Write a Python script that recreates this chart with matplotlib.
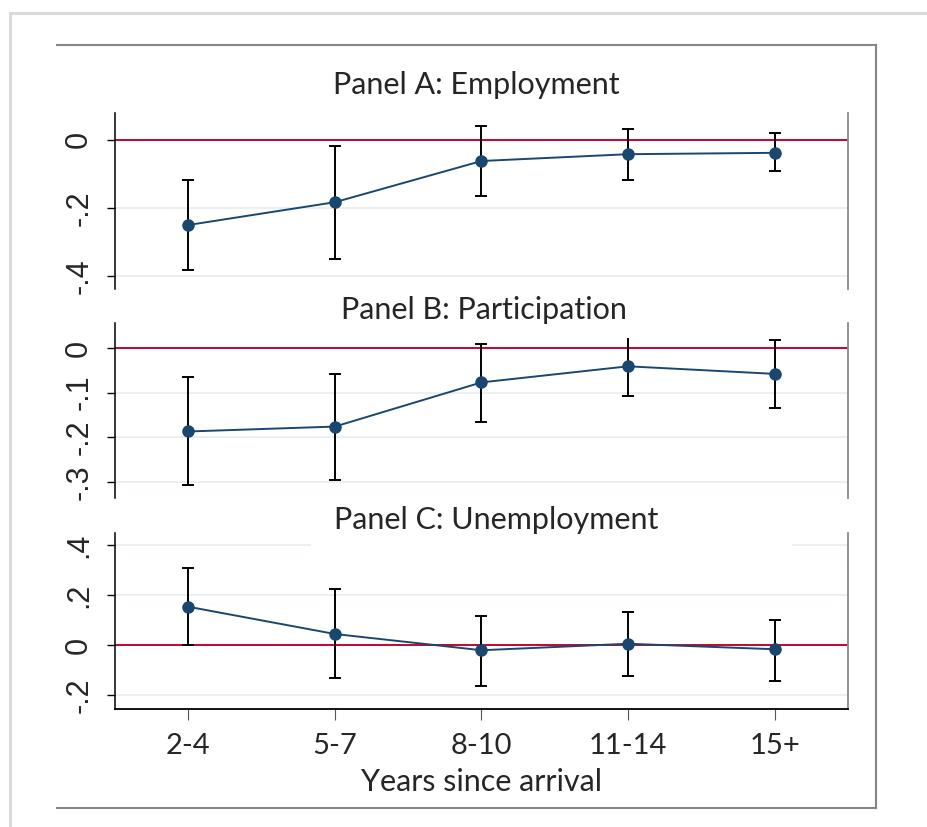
import numpy as np
import matplotlib.pyplot as plt
from matplotlib.lines import Line2D
from matplotlib.patches import Rectangle

# Категории (годы с момента прибытия)
periods = ['2-4', '5-7', '8-10', '11-14', '15+']

# Panel A: занятость
emp = [-0.250, -0.183, -0.062, -0.042, -0.038]
emp_lo = [-0.382, -0.350, -0.166, -0.117, -0.092]
emp_hi = [-0.118, -0.017, 0.041, 0.032, 0.019]

# Panel B: участие
part = [-0.187, -0.176, -0.077, -0.041, -0.058]
part_lo = [-0.306, -0.295, -0.166, -0.107, -0.134]
part_hi = [-0.065, -0.059, 0.010, 0.040, 0.018]

# Panel C: безработица
unemp = [0.153, 0.044, -0.021, 0.005, -0.017]
unemp_lo = [0.000, -0.133, -0.164, -0.124, -0.143]
unemp_hi = [0.308, 0.225, 0.116, 0.131, 0.100]

titles = ['Panel A: Employment', 'Panel B: Participation', 'Panel C: Unemployment']
yticks_all = [[0, -0.2, -0.4], [0, -0.1, -0.2, -0.3], [0.4, 0.2, 0, -0.2]]
ylims = [(-0.438, 0.079), (-0.336, 0.056), (-0.256, 0.448)]

W, H = 928, 827
navy = '#1a476f'
red = '#c10534'
grid_c = '#e9f0f2'
text_c = '#262626'
title_font = ['Lato', 'DejaVu Sans']
num_font = ['Liberation Sans', 'DejaVu Sans']


def fx(px):
    return px / W


def fy(py):
    return 1 - py / H


def stata_fmt(v):
    if abs(v) < 1e-9:
        return '0'
    s = f'{v:g}'
    return s.replace('0.', '.')


fig = plt.figure(figsize=(W / 100, H / 100), dpi=100)

# рамки вокруг графика
fig.add_artist(Rectangle((fx(10), fy(900)), fx(1000), fy(13) - fy(900),
                         transform=fig.transFigure, fill=False,
                         edgecolor='#dadada', lw=2.2))
frame_kw = dict(transform=fig.transFigure, color='#858585', lw=1.5)
fig.add_artist(Line2D([fx(57), fx(876)], [fy(45), fy(45)], **frame_kw))
fig.add_artist(Line2D([fx(876), fx(876)], [fy(45), fy(808)], **frame_kw))
fig.add_artist(Line2D([fx(57), fx(876)], [fy(808), fy(808)], **frame_kw))

series = [(emp, emp_lo, emp_hi), (part, part_lo, part_hi), (unemp, unemp_lo, unemp_hi)]
panel_px = [(113, 289), (323, 498), (533, 709)]
title_y = [85, 310, 520]
title_x = [476, 484, 496]
x = np.arange(1, len(periods) + 1)

for i, (vals, lo, hi) in enumerate(series):
    top, bot = panel_px[i]
    ax = fig.add_axes([fx(115), fy(bot), fx(848) - fx(115), fy(top) - fy(bot)])
    vals = np.array(vals)
    yerr = [vals - np.array(lo), np.array(hi) - vals]

    ax.set_xlim(0.5, 5.5)
    ax.set_ylim(*ylims[i])
    for t in yticks_all[i]:
        if t == 0:
            ax.axhline(0, color=red, lw=1.4, zorder=2)
        else:
            ax.axhline(t, color=grid_c, lw=1.4, zorder=1)

    ax.errorbar(x, vals, yerr=yerr, fmt='none', ecolor='black', elinewidth=1.4,
                capsize=4.5, capthick=1.4, zorder=3)
    ax.plot(x, vals, color=navy, lw=1.4, marker='o', markersize=8,
            markeredgecolor=navy, zorder=4)

    ax.set_yticks(yticks_all[i])
    ax.set_yticklabels([stata_fmt(t) for t in yticks_all[i]], rotation=90,
                       va='center', fontsize=22, family=num_font, color=text_c)
    ax.tick_params(axis='y', length=6, width=1, pad=9)

    for s in ['top', 'bottom']:
        ax.spines[s].set_visible(False)
    ax.spines['left'].set_color('black')
    ax.spines['left'].set_linewidth(1.1)
    ax.spines['right'].set_color('#8a8a8a')
    ax.spines['right'].set_linewidth(1.3)

    if i == 2:
        ax.spines['bottom'].set_visible(True)
        ax.spines['bottom'].set_color('black')
        ax.spines['bottom'].set_linewidth(1.3)
        ax.set_xticks(x)
        ax.set_xticklabels(periods, fontsize=21, family=title_font, color=text_c)
        ax.tick_params(axis='x', length=8, width=0.8, color='#555555', pad=9)
        ax.set_xlabel('Years since arrival', fontsize=22, family=title_font,
                      color=text_c, labelpad=7)
    else:
        ax.set_xticks([])

    # белая подложка под заголовком панели
    fig.add_artist(Rectangle((fx(311), fy(title_y[i] + 28)), fx(792) - fx(311),
                             fy(title_y[i] - 22) - fy(title_y[i] + 28),
                             transform=fig.transFigure, facecolor='white',
                             edgecolor='none', zorder=5))
    fig.text(fx(title_x[i]), fy(title_y[i]), titles[i], ha='center', va='center',
             fontsize=22, family=title_font, color=text_c, zorder=6)

plt.savefig('out.png', dpi=100)
